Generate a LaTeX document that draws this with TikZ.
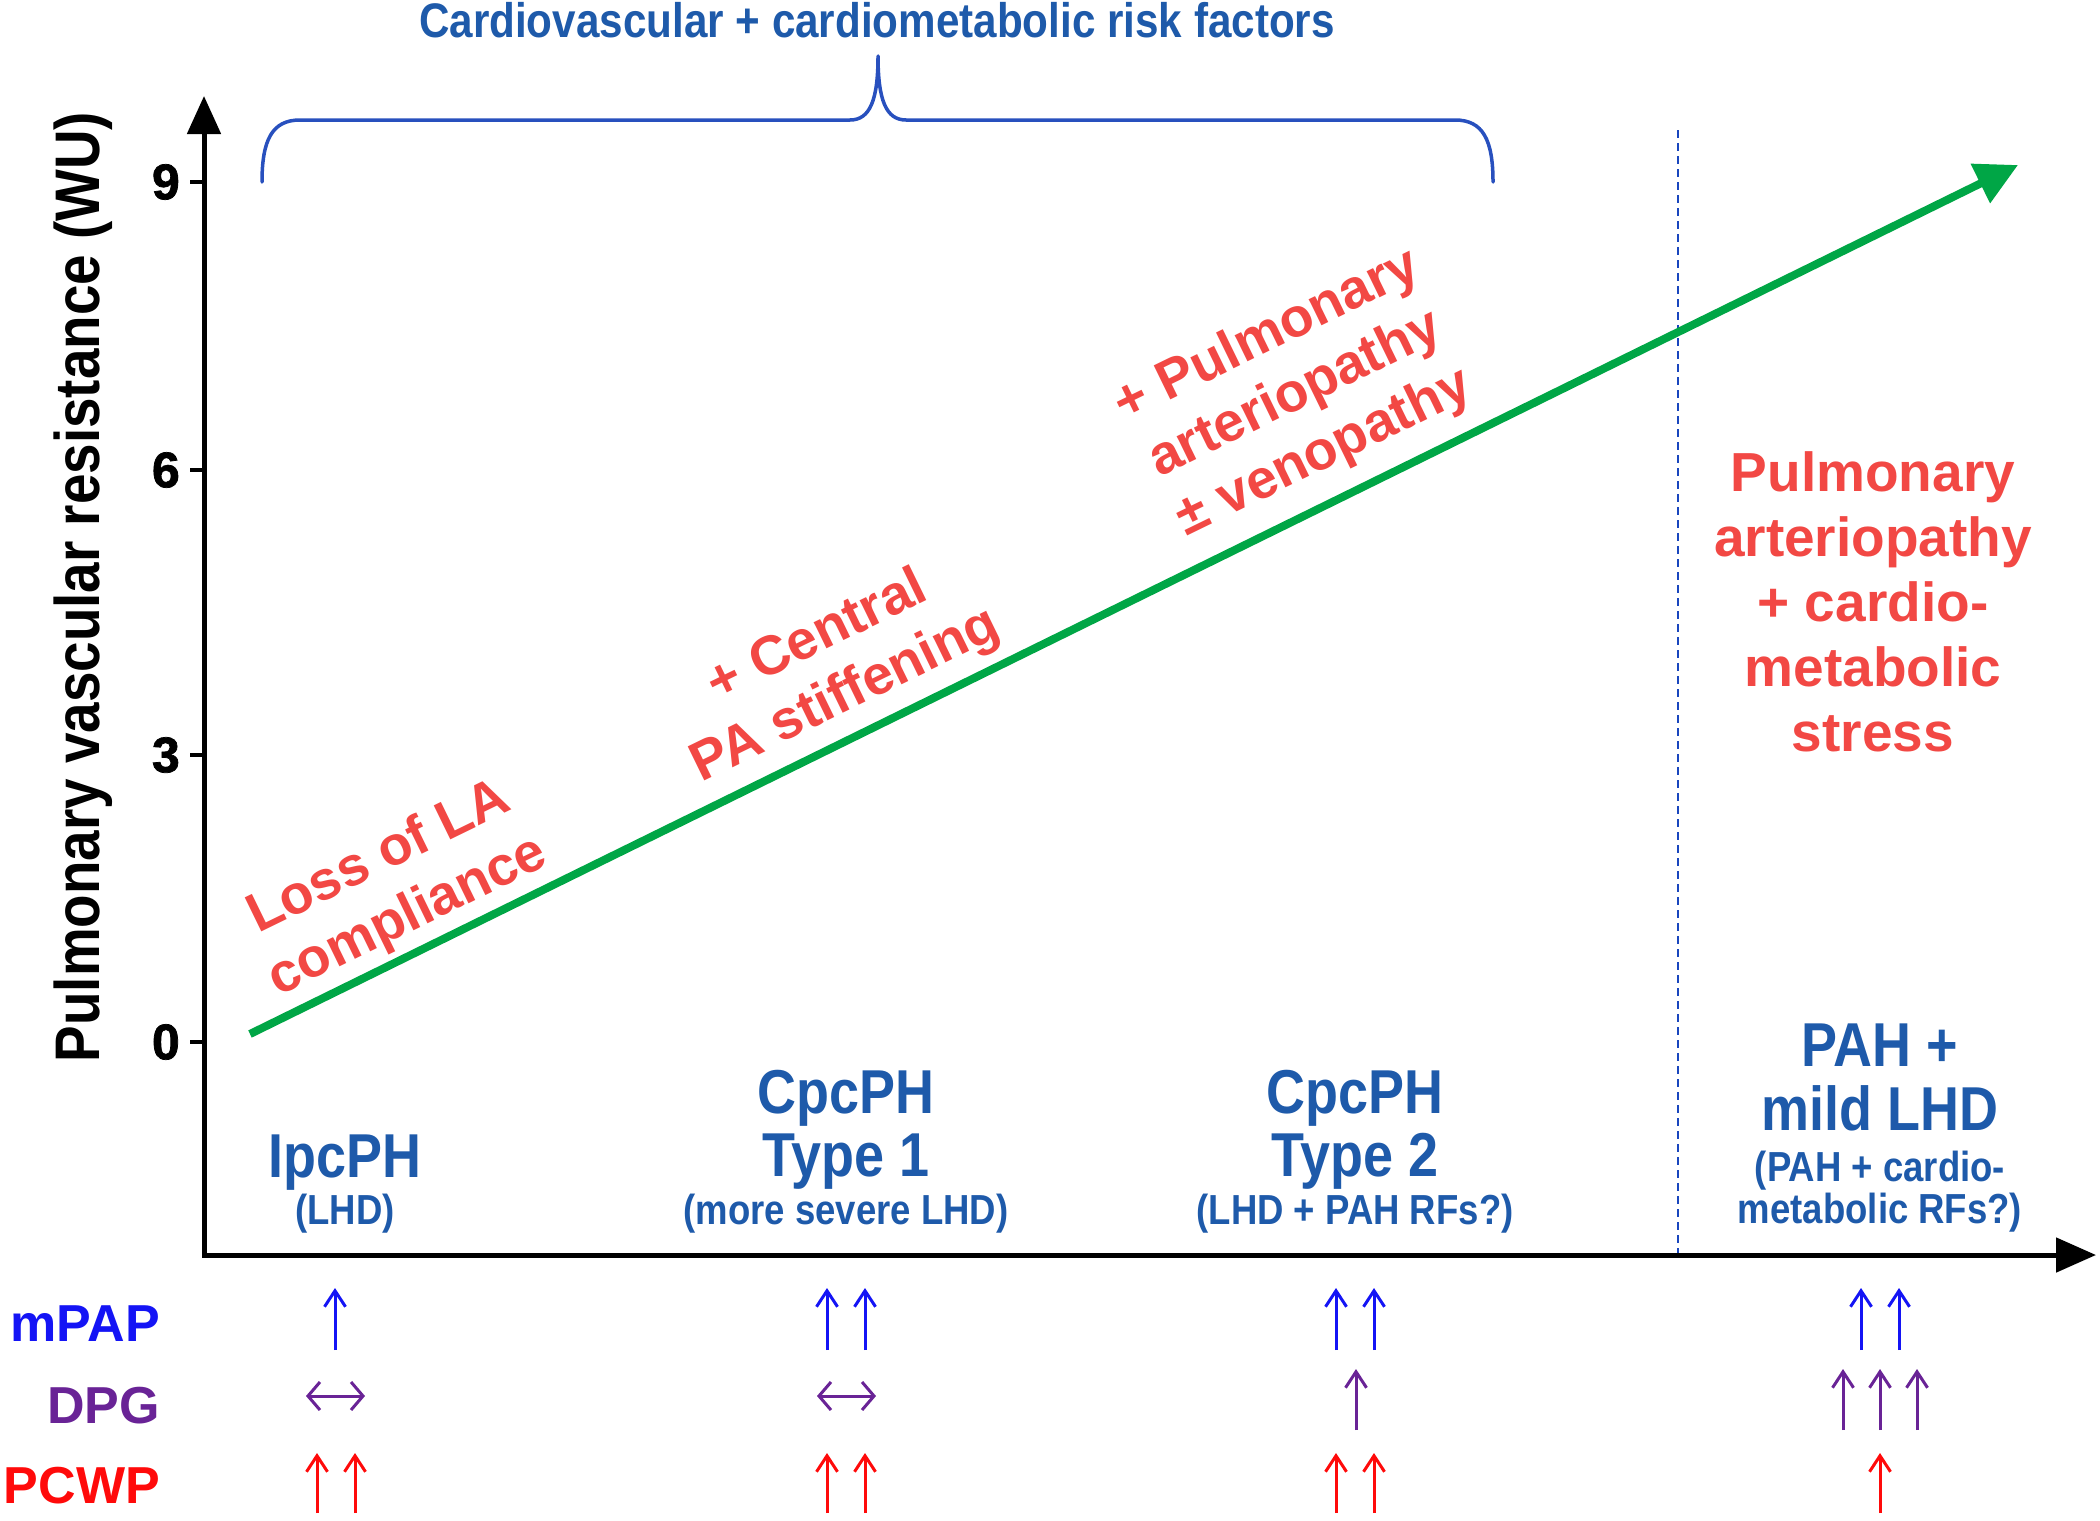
\documentclass[tikz,border=0pt]{standalone}
\usepackage{fontspec}
\setmainfont{Liberation Sans}
\newfontfamily\nf{Liberation Sans}[FakeStretch=0.87]
\newfontfamily\hf{Liberation Sans}[FakeBold=1.5]
\usetikzlibrary{arrows.meta}
\definecolor{lblue}{RGB}{30,90,170}
\definecolor{brblue}{RGB}{40,80,190}
\definecolor{dblue}{RGB}{25,70,190}
\definecolor{gr}{RGB}{0,166,70}
\definecolor{rd}{RGB}{242,72,68}
\definecolor{mblue}{RGB}{20,20,245}
\definecolor{purp}{RGB}{105,35,150}
\definecolor{pred}{RGB}{255,10,10}
\newcommand\fs[2]{\fontsize{#1}{#2}\selectfont}
\begin{document}
\begin{tikzpicture}[x=1pt,y=-1pt,
  redtxt/.style={text=rd,font=\bfseries\fs{55}{65},align=center,inner sep=0pt},
  bigblue/.style={text=lblue,font=\nf\bfseries\fs{62}{63},anchor=base,inner sep=0pt},
  smallblue/.style={text=lblue,font=\nf\bfseries\fs{42}{44},anchor=base,inner sep=0pt},
  ticklab/.style={font=\hf\bfseries\fs{50}{54},anchor=east,inner sep=0pt},
  rowlab/.style={font=\bfseries\fs{52}{58},anchor=base east,inner sep=0pt},
  uparrow/.style={line width=3pt,-{Straight Barb[length=16pt,width=21pt]}},
  flatarrow/.style={line width=3pt,{Straight Barb[length=12pt,width=28pt]}-{Straight Barb[length=12pt,width=28pt]}},
]
\fill[white] (0,0) rectangle (2100,1520);
\useasboundingbox (0,0) rectangle (2100,1520);

% title and brace
\node[text=lblue,font=\nf\bfseries\fs{48.5}{55},inner sep=0pt] (title) at (877,20) {Cardiovascular + cardiometabolic risk factors};
\draw[brblue,line width=3.5pt,line cap=round,line join=round]
  (262,182) .. controls (262,140) and (272,120) .. (300,120) -- (850,120)
  .. controls (870,120) and (878,100) .. (878,56)
  .. controls (878,100) and (886,120) .. (906,120) -- (1455,120)
  .. controls (1483,120) and (1493,140) .. (1493,182);

% dashed separator
\coordinate (dtop) at (1678,130);
\coordinate (dbot) at (1678,1255);
\draw[dblue,line width=2.5pt,dash pattern=on 8pt off 5pt] (dtop) -- (dbot);

% axes
\coordinate (O) at (204,1255);
\coordinate (Ytop) at (204,96);
\coordinate (Xend) at (2096,1255);
\draw[line width=5pt,{Triangle[length=38pt,width=33pt]}-{Triangle[length=40pt,width=34pt]}] (Ytop) -- (O) -- (Xend);
\foreach \v/\yy in {9/182,6/470,3/755,0/1042}{
  \draw[line width=4pt] (190,\yy) -- (204,\yy);
  \node[ticklab] at (180,\yy) {\v};
}
\node[rotate=90,font=\nf\bfseries\fs{63}{68},inner sep=0pt] (ylab) at (83,587) {Pulmonary vascular resistance (WU)};

% green arrow
\coordinate (gs) at (250,1034);
\coordinate (ge) at (2018,165);
\draw[gr,line width=8pt,-{Triangle[length=42pt,width=42pt]}] (gs) -- (ge);

% red mechanism texts
\node[redtxt,rotate=26] (r1) at (394,888) {Loss of LA\\compliance};
\node[redtxt,rotate=26] (r2) at (832,667) {+ Central\\PA stiffening};
\node[redtxt,rotate=26] (r3) at (1296,395) {+ Pulmonary\\arteriopathy\\± venopathy};
\node[redtxt] (r4) at (1873,602) {Pulmonary\\arteriopathy\\+ cardio-\\metabolic\\stress};

% blue phenotype labels
\node[bigblue] (c1a) at (345,1177) {IpcPH};
\node[smallblue] (c1b) at (345,1224) {(LHD)};
\node[bigblue] (c2a) at (846,1113) {CpcPH};
\node[bigblue] (c2b) at (846,1176) {Type 1};
\node[smallblue] (c2c) at (846,1224) {(more severe LHD)};
\node[bigblue] (c3a) at (1355,1113) {CpcPH};
\node[bigblue] (c3b) at (1355,1176) {Type 2};
\node[smallblue] (c3c) at (1355,1224) {(LHD + PAH RFs?)};
\node[bigblue] (c4a) at (1880,1066) {PAH +};
\node[bigblue] (c4b) at (1880,1130) {mild LHD};
\node[smallblue] (c4c) at (1880,1181) {(PAH + cardio-};
\node[smallblue] (c4d) at (1880,1223) {metabolic RFs?)};

% row labels
\node[rowlab,text=mblue] (mpap) at (160,1341) {mPAP};
\node[rowlab,text=purp] (dpg) at (160,1423) {DPG};
\node[rowlab,text=pred] (pcwp) at (160,1503) {PCWP};

% mPAP row
\foreach \xx in {335,827,865,1336,1374,1861,1899}
  \draw[uparrow,mblue] (\xx,1350) -- (\xx,1288);
% DPG row
\draw[flatarrow,purp] (306,1396) -- (365,1396);
\draw[flatarrow,purp] (817,1396) -- (876,1396);
\foreach \xx in {1356,1843,1880,1917}
  \draw[uparrow,purp] (\xx,1430) -- (\xx,1369);
% PCWP row
\foreach \xx in {317,355,827,865,1336,1374,1880}
  \draw[uparrow,pred] (\xx,1513) -- (\xx,1453);
\end{tikzpicture}
\end{document}
